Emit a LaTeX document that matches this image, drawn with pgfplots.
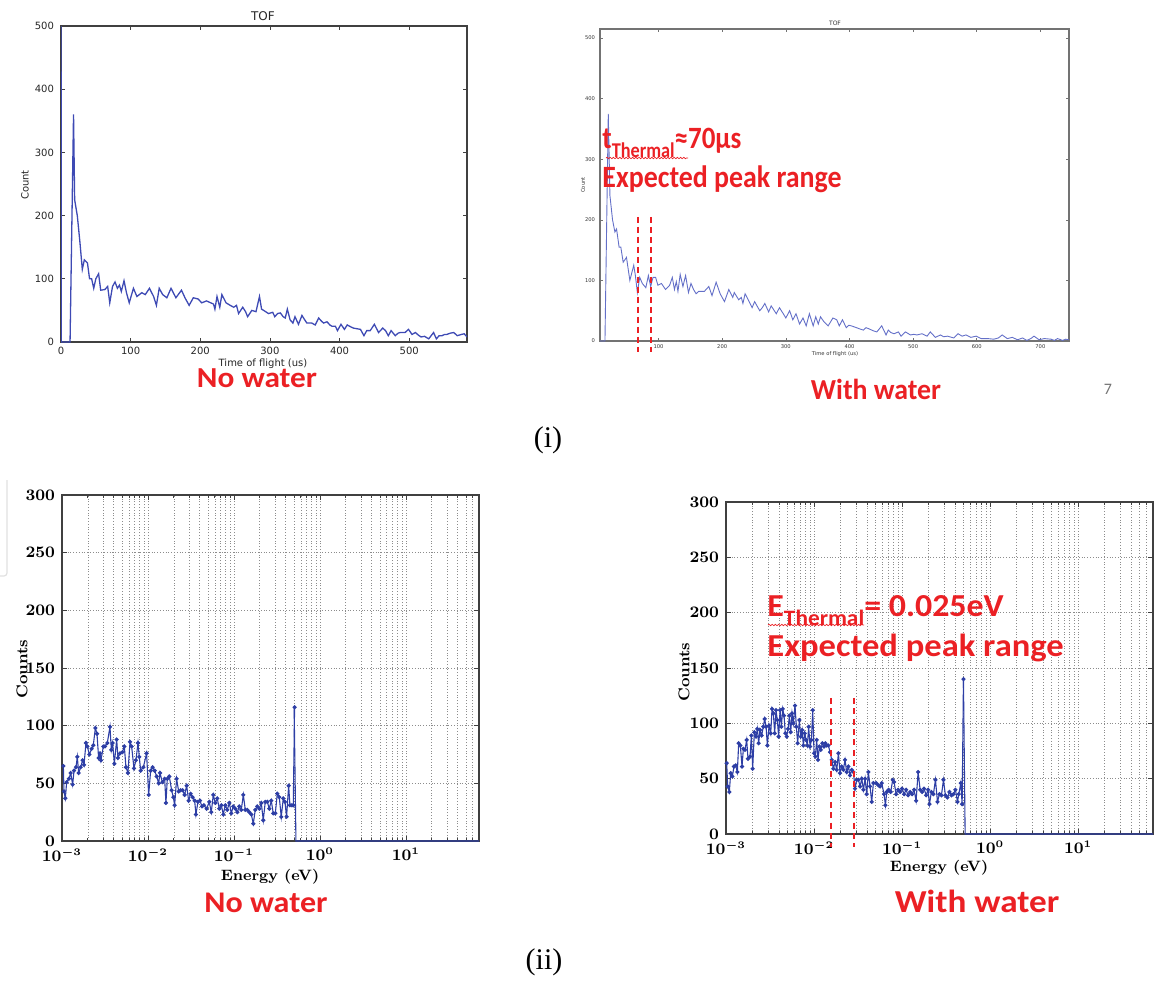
\documentclass[border=0pt]{standalone}
\usepackage{fontspec}
\usepackage{pgfplots}
\usepackage{pgfplotstable}
\pgfplotsset{compat=1.18}
\usetikzlibrary{decorations.pathmorphing}
\newfontfamily\dejavu{DejaVu Sans}
\newfontfamily\carlito{Carlito}
\newfontfamily\timesf{Liberation Serif}
\definecolor{ared}{RGB}{235,32,36}
\definecolor{lblue}{RGB}{62,74,180}
\definecolor{lblue2}{RGB}{100,112,200}
\definecolor{dblue}{RGB}{45,62,165}
\tikzset{wavy/.style={ared, line width=0.35pt, decorate, decoration={snake, amplitude=0.35pt, segment length=1.6pt}}}

\pgfplotstableread{
x y
0 600
0.5 0
13 0
18 360
19.6 225
23.4 200
27 160
30.6 115
33.5 130
38 125
41 100
44 100
47 85
50 100
54 108
57 82
63 83
67 88
70 62
74 88
77.6 95
81 85
84 90
86.6 80
90.5 97
94 78
98 62
104 85
109 72
116 78
121 75
127 85
133 72
137 58
141 85
146 75
152 70
158 85
165 70
173 82
178 70
184 58
190 70
197 68
202 62
209 65
215 62
219 60
221 52
224 72
228 55
231 75
237 62
243 58
248 55
252 58
255 45
261 55
265 48
268 40
274 50
280 48
285 72
288 52
291 50
298 45
304 47
307 40
311 45
315 46
319 40
322 38
325 52
329 35
333 30
336 40
341 28
346 42
350 35
353 30
360 30
365 27
370 38
374 33
377 30
382 32
386 27
389 25
394 25
397 18
402 28
407 20
411 27
416 24
420 22
425 21
430 20
435 10
439 18
444 18
450 28
456 15
462 22
466 18
470 10
474 18
480 10
484 14
487 15
494 15
499 20
504 12
509 15
513 11
517 8
522 9
528 5
535 15
539 5
543 10
547 10
551 12
554 12
559 14
564 15
569 10
575 12
579 13
583 8
}\tofnowater

\pgfplotstableread{
x y
8 0
15.8 0
21 375
23.6 240
27.7 200
31.4 180
34 185
38 155
40.7 155
44.4 130
49.6 138
54.9 100
61 125
63.6 108
66.7 80
70.4 105
74.5 95
80 88
84 108
87.6 90
91.3 105
95.4 105
99 92
104.5 95
111 85
117.4 92
121.6 105
125 85
127.9 98
130.5 82
134 110
138.3 90
142.5 108
147 80
151 95
155 85
159 78
163 82
167 82
172 82
179 90
184 75
190.5 97
196.8 78
203.6 65
210.4 85
216.6 72
219 80
226 68
230 72
232.6 62
236 78
240 70
247 55
251 65
259 50
263 55
267 62
273 48
277 58
285 45
290 55
296 45
300 38
306 50
311 35
316 45
321.6 28
327 38
332 25
337 45
343 25
347 40
351 28
354.5 40
359.7 32
366.5 25
374 38
380 35
384 25
389 35
395 22
399 26
403 25
411 22
416 20
421.7 18
426 22
431 20
437 17
443 15
450.7 25
457.5 10
461 18
465 14
470 12
477 15
481 8
488 15
495.8 10
501 11
506 10
514 12
522 8
527 15
535 6
543 10
548 7
554 8
564 5
570.6 12
577 8
583 10
590.8 6
599 8
607 4
617 4
627 3
634 5
640 10
648 4
656 6
664 2
672 5
678.8 1
685 4
690 8
698 2
706 4
716.6 3
722 1
727 4
735 1
740 3
745 2
}\tofwater

% log10(E) and counts
\pgfplotstableread{
lx c
-2.984 65
-2.977 43
-2.961 37
-2.946 51
-2.919 54
-2.899 59
-2.876 49
-2.860 61
-2.837 64
-2.822 73
-2.806 59
-2.783 64
-2.760 70
-2.744 66
-2.721 85
-2.705 82
-2.682 75
-2.655 80
-2.636 83
-2.612 98
-2.593 93
-2.574 72
-2.558 76
-2.547 70
-2.519 82
-2.500 82
-2.473 85
-2.442 99
-2.426 79
-2.411 85
-2.391 67
-2.364 88
-2.349 72
-2.326 76
-2.298 77
-2.275 82
-2.256 64
-2.233 59
-2.209 86
-2.190 82
-2.163 63
-2.140 70
-2.116 85
-2.101 73
-2.085 61
-2.054 64
-2.016 76
-1.992 40
-1.969 61
-1.946 64
-1.922 61
-1.899 56
-1.876 50
-1.860 59
-1.833 51
-1.806 54
-1.791 33
-1.775 54
-1.752 56
-1.725 44
-1.705 38
-1.690 31
-1.667 54
-1.643 43
-1.620 44
-1.597 44
-1.574 40
-1.550 48
-1.527 35
-1.504 41
-1.481 38
-1.457 35
-1.442 23
-1.419 34
-1.395 35
-1.372 30
-1.349 31
-1.318 28
-1.287 34
-1.264 25
-1.240 40
-1.217 33
-1.194 37
-1.171 28
-1.147 31
-1.124 23
-1.101 31
-1.078 27
-1.054 33
-1.031 24
-1.008 30
-0.984 28
-0.961 25
-0.938 30
-0.915 27
-0.891 40
-0.868 27
-0.845 27
-0.822 25
-0.798 23
-0.775 15
-0.752 27
-0.729 30
-0.705 28
-0.682 33
-0.659 18
-0.636 34
-0.612 34
-0.589 28
-0.566 35
-0.543 24
-0.519 24
-0.496 41
-0.473 38
-0.450 21
-0.426 37
-0.407 34
-0.388 21
-0.364 48
-0.349 31
-0.326 31
-0.310 31
-0.295 116
}\ennowater

\pgfplotstableread{
lx c
-2.992 64
-2.981 43
-2.962 38
-2.947 55
-2.928 52
-2.909 61
-2.890 62
-2.871 56
-2.856 82
-2.837 80
-2.818 61
-2.803 77
-2.784 76
-2.765 85
-2.750 68
-2.727 70
-2.712 89
-2.697 59
-2.678 92
-2.659 88
-2.644 95
-2.629 82
-2.614 94
-2.595 89
-2.576 97
-2.561 104
-2.545 97
-2.530 80
-2.511 98
-2.492 91
-2.477 113
-2.462 109
-2.447 91
-2.432 112
-2.417 103
-2.402 88
-2.386 112
-2.371 97
-2.356 113
-2.341 107
-2.326 91
-2.311 88
-2.295 95
-2.280 107
-2.265 92
-2.250 109
-2.235 100
-2.216 116
-2.201 97
-2.186 82
-2.167 103
-2.152 88
-2.136 94
-2.121 80
-2.106 91
-2.091 85
-2.076 80
-2.061 97
-2.045 79
-2.030 85
-2.015 112
-2.000 73
-1.985 70
-1.970 85
-1.955 67
-1.939 79
-1.924 76
-1.905 82
-1.886 79
-1.871 82
-1.856 80
-1.837 80
-1.818 74
-1.799 67
-1.780 59
-1.761 65
-1.742 58
-1.723 73
-1.705 55
-1.686 61
-1.667 58
-1.648 67
-1.629 56
-1.610 61
-1.591 53
-1.572 58
-1.553 56
-1.534 41
-1.515 49
-1.496 49
-1.477 43
-1.458 50
-1.439 40
-1.420 50
-1.402 36
-1.383 56
-1.364 43
-1.345 29
-1.326 46
-1.295 46
-1.269 44
-1.250 43
-1.231 46
-1.205 36
-1.189 26
-1.174 38
-1.152 40
-1.129 38
-1.106 49
-1.091 47
-1.068 36
-1.045 40
-1.023 38
-1.000 41
-0.977 36
-0.955 40
-0.932 35
-0.909 38
-0.886 36
-0.864 40
-0.841 30
-0.818 56
-0.795 40
-0.773 38
-0.750 41
-0.727 35
-0.705 40
-0.689 27
-0.667 38
-0.644 36
-0.621 49
-0.598 29
-0.576 36
-0.553 35
-0.530 49
-0.508 35
-0.485 33
-0.462 38
-0.439 35
-0.417 36
-0.394 40
-0.371 29
-0.356 36
-0.333 46
-0.318 27
-0.303 140
}\enwater

\pgfplotsset{
  toptof/.style={
    scale only axis, anchor=south west,
    tick align=inside, xtick pos=both, ytick pos=both,
    axis line style={draw=black!75, line width=0.6pt},
    every tick/.style={black!75, line width=0.4pt},
    /pgf/number format/assume math mode=true,
    clip mode=individual,
  },
  botlog/.style={
    scale only axis, anchor=south west,
    xmin=1e-3, xmax=70.8, ymin=0, ymax=300,
    ytick={0,50,...,300},
    tick align=inside, xtick pos=both, ytick pos=both,
    major tick length=2.5pt, minor tick length=1.3pt,
    axis line style={draw=black!75, line width=0.6pt},
    every tick/.style={black!75, line width=0.4pt},
    grid=both,
    major grid style={densely dotted, black!45, line width=0.35pt},
    minor grid style={densely dotted, black!45, line width=0.35pt},
    tick label style={font=\fontsize{7.8}{8.5}\selectfont\bfseries\boldmath},
    clip mode=individual,
  },
}

\begin{document}
\begin{tikzpicture}
\path[use as bounding box] (0,0) rectangle (580.5pt,-490pt);

% faint slide edge
\draw[black!12, line width=0.6pt] (0pt,-288pt) -- (2pt,-288pt) arc[start angle=-90,end angle=0,radius=1.5pt] -- (3.5pt,-240pt);

% ---------------- Panel 1: TOF no water
\begin{axis}[toptof, at={(30.5pt,-171pt)}, width=203pt, height=158pt,
  xmin=0, xmax=583, ymin=0, ymax=500,
  xtick={0,100,...,500}, ytick={0,100,...,500},
  major tick length=2pt,
  tick label style={font=\dejavu\fontsize{5}{6}\selectfont, text=black!85},
  xticklabel style={yshift=1pt},
]
\addplot[lblue, line width=0.65pt, no marks] table[x=x,y=y] {\tofnowater};
\end{axis}
\node[font=\dejavu\fontsize{6}{7}\selectfont, text=black!85] at (131.5pt,-8pt) {TOF};
\node[font=\dejavu\fontsize{5}{6}\selectfont, text=black!85] at (131.5pt,-182pt) {Time of flight (us)};
\node[font=\dejavu\fontsize{5}{6}\selectfont, text=black!85, rotate=90] at (12.5pt,-92.5pt) {Count};
\node[text=ared, anchor=base, inner sep=0pt] at (128.5pt,-193.5pt) {\scalebox{1.08}[1]{\carlito\bfseries\fontsize{14.5}{16}\selectfont No water}};

% ---------------- Panel 2: TOF with water
\begin{axis}[toptof, at={(300pt,-170.5pt)}, width=234.5pt, height=156pt,
  xmin=8, xmax=745, ymin=0, ymax=515,
  xtick={100,200,...,700}, ytick={0,100,...,500},
  major tick length=1.5pt,
  axis line style={draw=black!55, line width=0.6pt},
  every tick/.style={black!55, line width=0.3pt},
  tick label style={font=\dejavu\fontsize{2.6}{3}\selectfont, text=black!80},
  xticklabel style={yshift=1.5pt},
  yticklabel style={xshift=1pt},
]
\addplot[lblue2, line width=0.45pt, no marks] table[x=x,y=y] {\tofwater};
\end{axis}
% expected-peak range markers (t = 67 us and 88 us, from count 205 down below the axis)
\draw[draw=ared, line width=0.9pt, dash pattern=on 3pt off 2pt] (318.8pt,-108.4pt) -- (318.8pt,-176pt);
\draw[draw=ared, line width=0.9pt, dash pattern=on 3pt off 2pt] (325.5pt,-108.4pt) -- (325.5pt,-176pt);
\node[font=\dejavu\fontsize{3}{4}\selectfont, text=black!80] at (417.5pt,-11.5pt) {TOF};
\node[font=\dejavu\fontsize{2.6}{3}\selectfont, text=black!80] at (417.5pt,-177pt) {Time of flight (us)};
\node[font=\dejavu\fontsize{2.6}{3}\selectfont, text=black!80, rotate=90] at (291.5pt,-92.5pt) {Count};
\node[text=ared, anchor=base, inner sep=0pt] at (438pt,-199.5pt) {\scalebox{0.96}[1]{\carlito\bfseries\fontsize{14.5}{16}\selectfont With water}};
\node[font=\carlito\fontsize{8}{9}\selectfont, text=black!55, anchor=base] at (554pt,-197pt) {7};
\node[text=ared, anchor=base west, inner sep=0pt] at (301pt,-74pt) {\scalebox{0.87}[1]{\carlito\bfseries\fontsize{15.5}{18}\selectfont t\raisebox{-0.3em}{\fontsize{10.5}{12}\selectfont Thermal}≈70μs}};
\node[text=ared, anchor=base west, inner sep=0pt] at (301pt,-93.5pt) {\scalebox{0.9}[1]{\carlito\bfseries\fontsize{15.5}{18}\selectfont Expected peak range}};
\draw[wavy] (303pt,-79pt) -- (344pt,-79pt);

% (i)
\node[font=\timesf\fontsize{15}{17}\selectfont] at (274pt,-220pt) {(i)};

% ---------------- Panel 3: Energy no water
\begin{semilogxaxis}[botlog, at={(31pt,-420.5pt)}, width=208.5pt, height=173pt]
\addplot[dblue, line width=0.55pt, mark=*, mark size=0.75pt] table[x expr={10^(\thisrowno{0})}, y index=1] {\ennowater};
\addplot[dblue, line width=0.55pt, no marks] coordinates {(0.5012,116) (0.526,0) (70.8,0)};
\end{semilogxaxis}
\node[font=\fontsize{7.8}{9}\selectfont\bfseries, rotate=90] at (11pt,-334.5pt) {Counts};
\node[font=\fontsize{7.5}{9}\selectfont\bfseries] at (135pt,-438.5pt) {Energy (eV)};
\node[text=ared, anchor=base, inner sep=0pt] at (133pt,-456pt) {\scalebox{1.07}[1]{\carlito\bfseries\fontsize{15}{17}\selectfont No water}};

% ---------------- Panel 4: Energy with water
\begin{semilogxaxis}[botlog, at={(363pt,-417pt)}, width=213.5pt, height=166pt]
\addplot[dblue, line width=0.55pt, mark=*, mark size=0.75pt] table[x expr={10^(\thisrowno{0})}, y index=1] {\enwater};
\addplot[dblue, line width=0.55pt, no marks] coordinates {(0.4977,140) (0.52,0) (70.8,0)};
\draw[ared, line width=0.9pt, dash pattern=on 3pt off 2.2pt] (axis cs:0.0156,123) -- (axis cs:0.0156,-12);
\draw[ared, line width=0.9pt, dash pattern=on 3pt off 2.2pt] (axis cs:0.0285,123) -- (axis cs:0.0285,-12);
\end{semilogxaxis}
\node[font=\fontsize{7.8}{9}\selectfont\bfseries, rotate=90] at (342pt,-336pt) {Counts};
\node[font=\fontsize{7.5}{9}\selectfont\bfseries] at (469.5pt,-434pt) {Energy (eV)};
\node[text=ared, anchor=base, inner sep=0pt] at (488.5pt,-456pt) {\scalebox{1.1}[1]{\carlito\bfseries\fontsize{16}{18}\selectfont With water}};
\node[text=ared, anchor=base west, inner sep=0pt] at (383.5pt,-308pt) {\scalebox{1.06}[1]{\carlito\bfseries\fontsize{16}{18}\selectfont E\raisebox{-0.3em}{\fontsize{11}{12}\selectfont Thermal}= 0.025eV}};
\node[text=ared, anchor=base west, inner sep=0pt] at (383.5pt,-328pt) {\scalebox{1.08}[1]{\carlito\bfseries\fontsize{16}{18}\selectfont Expected peak range}};
\draw[wavy] (384pt,-312.5pt) -- (432pt,-312.5pt);

% (ii)
\node[font=\timesf\fontsize{15}{17}\selectfont] at (272pt,-481pt) {(ii)};
\end{tikzpicture}
\end{document}
